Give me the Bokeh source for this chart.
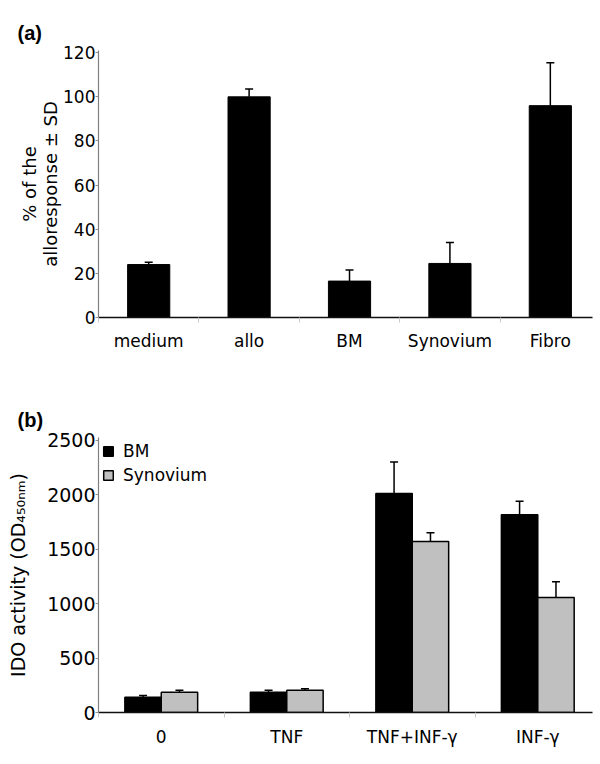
from bokeh.plotting import figure
from bokeh.models import (ColumnDataSource, Whisker, TeeHead, FixedTicker, Range1d,
                          Legend, LegendItem)
from bokeh.layouts import column
from bokeh.embed import file_html
from bokeh.resources import INLINE

# ---------------- data ----------------
# Panel (a)
a_categories = ["medium", "allo", "BM", "Synovium", "Fibro"]
a_values = [24, 100, 16.5, 24.5, 96]
a_sd = [1, 3.5, 5, 9.5, 19.5]
a_yticks = [0, 20, 40, 60, 80, 100, 120]

# Panel (b)
b_categories = ["0", "TNF", "TNF+INF-γ", "INF-γ"]
b_series = ["BM", "Synovium"]
b_bm = [140, 185, 2010, 1815]
b_bm_sd = [15, 20, 290, 125]
b_syn = [185, 205, 1570, 1055]
b_syn_sd = [20, 12, 80, 145]
b_yticks = [0, 500, 1000, 1500, 2000, 2500]

NUM_FONT = "DejaVu Sans"
TXT_FONT = "DejaVu Sans"


def style_axes(p, n_cat, yticks, labels, tick_size, label_size, label_standoff,
               x_standoff):
    xa = p.xaxis[0]
    xa.ticker = FixedTicker(ticks=[i + 0.5 for i in range(n_cat)],
                            minor_ticks=list(range(n_cat + 1)))
    xa.major_label_overrides = {i + 0.5: lab for i, lab in enumerate(labels)}
    xa.major_tick_out = 0
    xa.major_tick_in = 0
    xa.minor_tick_out = 5
    xa.minor_tick_in = 0
    xa.minor_tick_line_color = "#c8c8c8"
    xa.axis_line_color = "#111111"
    xa.axis_line_width = 1.5
    xa.major_label_text_font = TXT_FONT
    xa.major_label_text_font_size = "17px"
    xa.major_label_text_color = "#000000"
    xa.major_label_standoff = x_standoff

    ya = p.yaxis[0]
    ya.ticker = FixedTicker(ticks=yticks, minor_ticks=[])
    ya.major_tick_out = 3
    ya.major_tick_in = 0
    ya.major_tick_line_color = "#909090"
    ya.axis_line_color = "#808080"
    ya.axis_line_width = 1.2
    ya.major_label_text_font = NUM_FONT
    ya.major_label_text_font_size = tick_size
    ya.major_label_text_color = "#000000"
    ya.major_label_standoff = 0
    ya.axis_label_text_font = TXT_FONT
    ya.axis_label_text_font_style = "normal"
    ya.axis_label_text_font_size = label_size
    ya.axis_label_text_color = "#000000"
    ya.axis_label_text_line_height = 1.0
    ya.axis_label_standoff = label_standoff

    p.xgrid.visible = False
    p.ygrid.visible = False
    p.outline_line_color = None
    p.title.text_font = "Liberation Sans"
    p.title.text_font_size = "20px"
    p.title.text_font_style = "bold"
    p.title.text_color = "#000000"
    p.title.align = "left"
    p.title.offset = -81
    p.title.standoff = 13


# ---------------- panel (a) ----------------
pa = figure(width=600, height=370, x_range=Range1d(0, 4.92), y_range=Range1d(0, 121),
            output_backend="svg", toolbar_location=None, title="(a)",
            min_border_left=98, min_border_right=8, min_border_top=50,
            min_border_bottom=53)

a_x = [i + 0.5 for i in range(len(a_categories))]
src_a = ColumnDataSource(dict(x=a_x, top=a_values,
                              upper=[v + s for v, s in zip(a_values, a_sd)]))
pa.vbar(x="x", top="top", width=0.42, bottom=0, source=src_a,
        fill_color="black", line_color="black")
pa.add_layout(Whisker(source=src_a, base="x", lower="top", upper="upper",
                      line_color="black", line_width=1.5, lower_head=None,
                      upper_head=TeeHead(size=8, line_width=1.5, line_color="black")))
pa.yaxis.axis_label = "% of the\nalloresponse ± SD"
style_axes(pa, len(a_categories), a_yticks, a_categories, "17px", "18px", -1, 8)

# ---------------- panel (b) ----------------
pb = figure(width=600, height=394, x_range=Range1d(0, 3.936), y_range=Range1d(0, 2525),
            output_backend="svg", toolbar_location=None, title="(b)",
            min_border_left=98, min_border_right=8, min_border_top=67,
            min_border_bottom=52)

bw = 0.29
b_center = [i + 0.5 for i in range(len(b_categories))]
src_bm = ColumnDataSource(dict(x=[c - bw / 2 for c in b_center], top=b_bm,
                               upper=[v + s for v, s in zip(b_bm, b_bm_sd)]))
src_syn = ColumnDataSource(dict(x=[c + bw / 2 for c in b_center], top=b_syn,
                                upper=[v + s for v, s in zip(b_syn, b_syn_sd)]))
r_bm = pb.vbar(x="x", top="top", width=bw, bottom=0, source=src_bm,
               fill_color="black", line_color="black", line_width=1.5)
r_syn = pb.vbar(x="x", top="top", width=bw, bottom=0, source=src_syn,
                fill_color="#c0c0c0", line_color="black", line_width=1.5)
for s in (src_bm, src_syn):
    pb.add_layout(Whisker(source=s, base="x", lower="top", upper="upper",
                          line_color="black", line_width=1.5, lower_head=None,
                          upper_head=TeeHead(size=8, line_width=1.5, line_color="black")))

legend = Legend(items=[LegendItem(label=b_series[0], renderers=[r_bm]),
                       LegendItem(label=b_series[1], renderers=[r_syn])],
                location="top_left", margin=4, padding=4, spacing=4,
                glyph_width=12, glyph_height=12, label_height=20,
                label_standoff=9, label_text_font=TXT_FONT,
                label_text_color="#000000",
                label_text_font_size="17px", border_line_color=None,
                background_fill_alpha=0)
pb.add_layout(legend)
pb.yaxis.axis_label = "IDO activity (OD₄₅₀ₙₘ)"
style_axes(pb, len(b_categories), b_yticks, b_categories, "19px", "19px", 15, 9)

layout = column(pa, pb, spacing=0)
open("out.html", "w").write(file_html(layout, INLINE))
